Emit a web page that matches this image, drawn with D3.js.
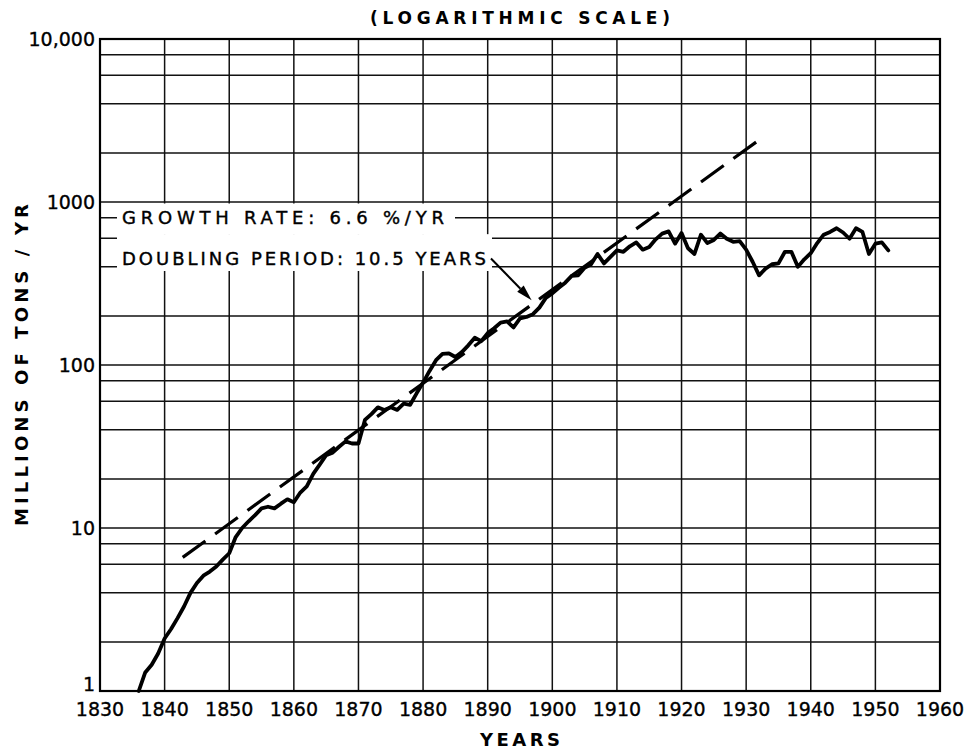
<!DOCTYPE html>
<html><head><meta charset="utf-8">
<script src="https://cdn.jsdelivr.net/npm/d3@7"></script>
<style>body{margin:0;background:#fff} svg{display:block}</style>
</head><body><svg id="c" width="973" height="752"></svg>
<script>
// ---- data ----
const years = [1836,1837,1838,1839,1840,1841,1842,1843,1844,1845,1846,1847,1848,1849,1850,
  1851,1852,1853,1854,1855,1856,1857,1858,1859,1860,1861,1862,1863,1864,1865,1866,1867,1868,1869,1870,
  1871,1872,1873,1874,1875,1876,1877,1878,1879,1880,1881,1882,1883,1884,1885,1886,1887,1888,1889,1890,
  1891,1892,1893,1894,1895,1896,1897,1898,1899,1900,1901,1902,1903,1904,1905,1906,1907,1908,1909,1910,
  1911,1912,1913,1914,1915,1916,1917,1918,1919,1920,1921,1922,1923,1924,1925,1926,1927,1928,1929,1930,
  1931,1932,1933,1934,1935,1936,1937,1938,1939,1940,1941,1942,1943,1944,1945,1946,1947,1948,1949,1950,
  1951,1952];
const production = [1.0,1.3,1.45,1.7,2.1,2.4,2.8,3.3,4.0,4.6,5.1,5.4,5.8,6.4,7.0,
  8.8,10.0,11.0,12.0,13.2,13.5,13.2,14.1,15.0,14.4,16.5,18.0,21.5,24.5,28.0,29.0,31.5,34.0,33.0,33.0,
  46,50,55,53,55,53,58,57,67,78,92,107,117,118,112,120,132,147,140,157,
  168,182,185,170,193,197,205,225,258,275,298,320,352,355,395,415,480,420,460,505,
  495,535,565,510,530,590,640,660,555,645,520,480,630,560,585,640,595,570,575,510,
  430,355,390,415,420,495,495,400,445,485,560,630,655,690,650,595,690,655,480,555,
  565,505];
const trendYears = [1842.8, 1931.6];
const trendValues = [6.6, 2340];
const xTicks = [1830,1840,1850,1860,1870,1880,1890,1900,1910,1920,1930,1940,1950,1960];
const yTickValues = [1,10,100,1000,10000];
const yTickLabels = ["1","10","100","1000","10,000"];
const gridMultipliers = [2,4,6,8];
const titleText = "(LOGARITHMIC SCALE)";
const xLabel = "YEARS";
const yLabel = "MILLIONS OF TONS / YR";
const annotationLines = ["GROWTH RATE: 6.6 %/YR", "DOUBLING PERIOD: 10.5 YEARS"];
const annotationAnchor = {year: 1833.4, values: [800, 450]};
const arrowTarget = {year: 1896.8, value: 250};

// ---- layout ----
const svg = d3.select("#c");
const L = 100, R = 940, T = 39, B = 691;
const x = d3.scaleLinear().domain([1830,1960]).range([L,R]);
const y = d3.scaleLog().domain([1,10000]).range([B,T]);
const font = "DejaVu Sans, Liberation Sans, sans-serif";
svg.append("rect").attr("width",973).attr("height",752).attr("fill","#fff");

// grid values
const hGrid = [];
for (let k=0;k<4;k++){ gridMultipliers.forEach(m=>hGrid.push(m*Math.pow(10,k))); if(k>0) hGrid.push(Math.pow(10,k)); }

const g = svg.append("g");
g.selectAll("line.h").data(hGrid).join("line").attr("class","h")
  .attr("x1",L).attr("x2",R).attr("y1",d=>y(d)).attr("y2",d=>y(d))
  .attr("stroke","#111").attr("stroke-width",1.5);
g.selectAll("line.v").data(xTicks.slice(1,-1)).join("line").attr("class","v")
  .attr("y1",T).attr("y2",B).attr("x1",d=>x(d)).attr("x2",d=>x(d))
  .attr("stroke","#111").attr("stroke-width",1.5);

// annotation masks
const ay0 = y(annotationAnchor.values[0]), ay1 = y(annotationAnchor.values[1]);
g.append("rect").attr("x",L+17).attr("y",y(1000)+1.5).attr("width",455-L-17).attr("height",(ay0+ay1)/2 - y(1000) - 5).attr("fill","#fff");
g.append("rect").attr("x",L+17).attr("y",(ay0+ay1)/2 - 4).attr("width",492-L-17).attr("height",271-((ay0+ay1)/2 - 4)).attr("fill","#fff");

// frame
svg.append("rect").attr("x",L).attr("y",T).attr("width",R-L).attr("height",B-T)
  .attr("fill","none").attr("stroke","#000").attr("stroke-width",2.2);

// trend line
const tdata = trendYears.map((yr,i)=>[yr,trendValues[i]]);
svg.append("path").datum(tdata)
  .attr("d", d3.line().x(d=>x(d[0])).y(d=>y(d[1])))
  .attr("fill","none").attr("stroke","#000").attr("stroke-width",3.2)
  .attr("stroke-dasharray","28,12");

// data curve
const data = years.map((yr,i)=>[yr,production[i]]);
svg.append("path").datum(data)
  .attr("d", d3.line().x(d=>x(d[0])).y(d=>y(d[1])))
  .attr("fill","none").attr("stroke","#000").attr("stroke-width",3.8)
  .attr("stroke-linejoin","round").attr("stroke-linecap","round");

// x tick labels
svg.selectAll("text.xt").data(xTicks).join("text").attr("class","xt")
  .attr("x",d=>x(d)).attr("y",B+25).attr("text-anchor","middle")
  .attr("font-family",font).attr("font-size",19).attr("fill","#000")
  .attr("stroke","#000").attr("stroke-width",0.35)
  .text(d=>d);
// y tick labels
svg.selectAll("text.yt").data(yTickValues).join("text").attr("class","yt")
  .attr("x",L-5).attr("y",d=>y(d)).attr("dy",(d,i)=>i===0?"0em":"0.36em").attr("text-anchor","end")
  .attr("font-family",font).attr("font-size",19).attr("fill","#000")
  .attr("stroke","#000").attr("stroke-width",0.35)
  .text((d,i)=>yTickLabels[i]);

// title and axis labels
svg.append("text").attr("x",(L+R)/2).attr("y",24).attr("text-anchor","middle")
  .attr("font-family",font).attr("font-weight","bold").attr("font-size",17)
  .attr("textLength",300).attr("lengthAdjust","spacing").text(titleText);
svg.append("text").attr("x",(L+R)/2).attr("y",746).attr("text-anchor","middle")
  .attr("font-family",font).attr("font-weight","bold").attr("font-size",18)
  .attr("textLength",80).attr("lengthAdjust","spacing").text(xLabel);
svg.append("text").attr("transform",`translate(28,${(T+B)/2}) rotate(-90)`).attr("text-anchor","middle")
  .attr("font-family",font).attr("font-weight","bold").attr("font-size",18)
  .attr("textLength",322).attr("lengthAdjust","spacing").text(yLabel);

// annotation text
const annWidths = [322, 364];
svg.selectAll("text.ann").data(annotationLines).join("text").attr("class","ann")
  .attr("x",x(annotationAnchor.year)).attr("y",(d,i)=>y(annotationAnchor.values[i]))
  .attr("dy","0.36em").attr("font-family",font).attr("font-size",18)
  .attr("stroke","#000").attr("stroke-width",0.4)
  .attr("textLength",(d,i)=>annWidths[i]).attr("lengthAdjust","spacing").text(d=>d);

// arrow
const sx = x(annotationAnchor.year) + annWidths[1] + 5, sy = y(annotationAnchor.values[1]);
const ex = x(arrowTarget.year), ey = y(arrowTarget.value);
const ang = Math.atan2(ey-sy, ex-sx), hl = 16, hw = 4.5;
const bx = ex - hl*Math.cos(ang), by = ey - hl*Math.sin(ang);
svg.append("line").attr("x1",sx).attr("y1",sy).attr("x2",bx).attr("y2",by)
  .attr("stroke","#000").attr("stroke-width",2);
svg.append("path").attr("d",`M${ex},${ey}L${bx - hw*Math.sin(ang)},${by + hw*Math.cos(ang)}L${bx + hw*Math.sin(ang)},${by - hw*Math.cos(ang)}Z`)
  .attr("fill","#000");
</script></body></html>
